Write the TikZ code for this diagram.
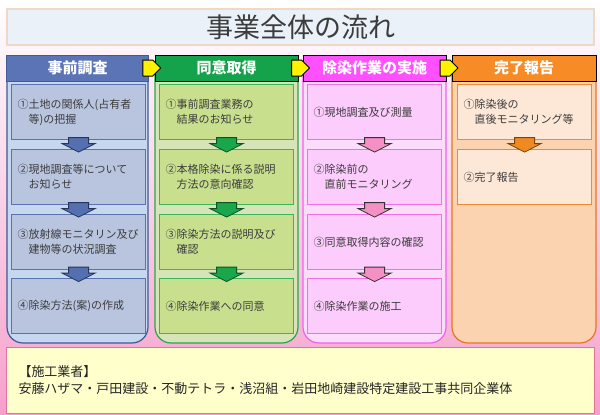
\documentclass[tikz,border=0pt]{standalone}
\usepackage{fontspec}
\setmainfont{Noto Sans CJK JP}
\usepackage{xcolor}
\usetikzlibrary{calc}

\definecolor{bgpink}{HTML}{F5A0CC}
\definecolor{titlefill}{HTML}{EAF1F9}
\definecolor{titleline}{HTML}{EFD8C6}
\definecolor{titletext}{HTML}{3C3C3C}
\definecolor{steptext}{HTML}{3C3C3C}
\definecolor{bluehead}{HTML}{5B74B5}
\definecolor{blueline}{HTML}{3F5A96}
\definecolor{bluebody}{HTML}{C6D8F0}
\definecolor{bluestep}{HTML}{B9C5DF}
\definecolor{blueedge}{HTML}{5A73AC}
\definecolor{bluearrow}{HTML}{5470B0}
\definecolor{greenhead}{HTML}{14A34A}
\definecolor{greenline}{HTML}{25A84C}
\definecolor{greenbody}{HTML}{D6E4B8}
\definecolor{greenstep}{HTML}{C8E08E}
\definecolor{greenedge}{HTML}{3CB45A}
\definecolor{greenarrow}{HTML}{1AA64A}
\definecolor{pinkhead}{HTML}{FF50FF}
\definecolor{pinkline}{HTML}{F060F0}
\definecolor{pinkbody}{HTML}{FBDCFB}
\definecolor{pinkstep}{HTML}{FCCCFC}
\definecolor{pinkedge}{HTML}{F070E0}
\definecolor{pinkarrow}{HTML}{F590C4}
\definecolor{orangehead}{HTML}{F78B26}
\definecolor{orangeline}{HTML}{E07A20}
\definecolor{orangebody}{HTML}{FBD3B0}
\definecolor{orangestep}{HTML}{FDE7D6}
\definecolor{orangeedge}{HTML}{EC8A3A}
\definecolor{orangearrow}{HTML}{F08A20}
\definecolor{infofill}{HTML}{FFFFCC}
\definecolor{infoline}{HTML}{E5729A}

\tikzset{
  colhead/.style={draw=black, line width=1pt, text=white, font=\fontsize{15}{15}\selectfont\bfseries, minimum width=142pt, minimum height=26pt, inner sep=0pt},
  colbody/.style={line width=1.2pt, rounded corners=16pt},
  stepbox/.style={draw, line width=1.2pt, anchor=north west, minimum height=55pt, text width=122pt, inner xsep=6pt, align=left, text=steptext, font=\fontsize{11}{15}\selectfont},
  blockdown/.pic={\draw[pic actions, line width=0.8pt, line join=miter] (-10,-7) -- (10,-7) -- (10,-1) -- (16.5,-1) -- (0,7.5) -- (-16.5,-1) -- (-10,-1) -- cycle;},
  nextarrow/.pic={\draw[fill=yellow, draw=black, line width=1pt, line join=round] (-9,-8) -- (1,-8) -- (9,0) -- (1,8) -- (-9,8) -- cycle;}
}

\begin{document}
\begin{tikzpicture}[x=1pt, y=-1pt]
    \shade[top color=white, bottom color=bgpink] (0,0) rectangle (600,415);
    \useasboundingbox (0,0) rectangle (600,415);

    \node[draw=titleline, line width=1.5pt, fill=titlefill, minimum width=587pt, minimum height=36pt, text=titletext, font=\fontsize{27}{27}\selectfont] (title) at (300.5,27) {事業全体の流れ};

    % column bodies
    \draw[colbody, draw=blueline, fill=bluebody] (7,60) rectangle (148,343);
    \draw[colbody, draw=greenline, fill=greenbody] (155,60) rectangle (298,343);
    \draw[colbody, draw=pinkline, fill=pinkbody] (303,60) rectangle (446,343);
    \draw[colbody, draw=orangeline, fill=orangebody] (452,60) rectangle (596,343);

    % column heads
    \node[colhead, draw=blueline, fill=bluehead] (ha) at (77.5,68) {事前調査};
    \node[colhead, fill=greenhead, minimum width=143pt] (hb) at (226.5,68) {同意取得};
    \node[colhead, fill=pinkhead, minimum width=143pt] (hc) at (374.5,68) {除染作業の実施};
    \node[colhead, fill=orangehead, minimum width=144pt] (hd) at (524,68) {完了報告};

    \pic (nab) at ($(ha.east)!0.5!(hb.west)$) {nextarrow};
    \pic (nbc) at ($(hb.east)!0.5!(hc.west)$) {nextarrow};
    \pic (ncd) at ($(hc.east)!0.5!(hd.west)$) {nextarrow};

    % steps
    \node[stepbox, draw=blueedge, fill=bluestep] (a1) at (11,84) {①土地の関係人(占有者\\\hspace*{1em}等)の把握};
    \node[stepbox, draw=blueedge, fill=bluestep] (a2) at (11,149) {②現地調査等について\\\hspace*{1em}お知らせ};
    \node[stepbox, draw=blueedge, fill=bluestep] (a3) at (11,214) {③放射線モニタリン及び\\\hspace*{1em}建物等の状況調査};
    \node[stepbox, draw=blueedge, fill=bluestep] (a4) at (11,278) {④除染方法(案)の作成};

    \node[stepbox, draw=greenedge, fill=greenstep] (b1) at (159,84) {①事前調査業務の\\\hspace*{1em}結果のお知らせ};
    \node[stepbox, draw=greenedge, fill=greenstep] (b2) at (159,149) {②本格除染に係る説明\\\hspace*{1em}方法の意向確認};
    \node[stepbox, draw=greenedge, fill=greenstep] (b3) at (159,214) {③除染方法の説明及び\\\hspace*{1em}確認};
    \node[stepbox, draw=greenedge, fill=greenstep] (b4) at (159,278) {④除染作業への同意};

    \node[stepbox, draw=pinkedge, fill=pinkstep] (c1) at (307,84) {①現地調査及び測量};
    \node[stepbox, draw=pinkedge, fill=pinkstep] (c2) at (307,149) {②除染前の\\\hspace*{1em}直前モニタリング};
    \node[stepbox, draw=pinkedge, fill=pinkstep] (c3) at (307,214) {③同意取得内容の確認};
    \node[stepbox, draw=pinkedge, fill=pinkstep] (c4) at (307,278) {④除染作業の施工};

    \node[stepbox, draw=orangeedge, fill=orangestep] (d1) at (457,84) {①除染後の\\\hspace*{1em}直後モニタリング等};
    \node[stepbox, draw=orangeedge, fill=orangestep] (d2) at (457,149) {②完了報告};

    % arrows between steps
    \pic[draw=blueline!60!black, fill=bluearrow] (a12) at ($(a1.south)!0.5!(a2.north)$) {blockdown};
    \pic[draw=blueline!60!black, fill=bluearrow] (a23) at ($(a2.south)!0.5!(a3.north)$) {blockdown};
    \pic[draw=blueline!60!black, fill=bluearrow] (a34) at ($(a3.south)!0.5!(a4.north)$) {blockdown};
    \pic[draw=greenarrow!50!black, fill=greenarrow] (b12) at ($(b1.south)!0.5!(b2.north)$) {blockdown};
    \pic[draw=greenarrow!50!black, fill=greenarrow] (b23) at ($(b2.south)!0.5!(b3.north)$) {blockdown};
    \pic[draw=greenarrow!50!black, fill=greenarrow] (b34) at ($(b3.south)!0.5!(b4.north)$) {blockdown};
    \pic[draw=black!80, fill=pinkarrow] (c12) at ($(c1.south)!0.5!(c2.north)$) {blockdown};
    \pic[draw=black!80, fill=pinkarrow] (c23) at ($(c2.south)!0.5!(c3.north)$) {blockdown};
    \pic[draw=black!80, fill=pinkarrow] (c34) at ($(c3.south)!0.5!(c4.north)$) {blockdown};
    \pic[draw=orangearrow!50!black, fill=orangearrow] (d12) at ($(d1.south)!0.5!(d2.north)$) {blockdown};

    \node[draw=infoline, line width=1pt, fill=infofill, anchor=north west, minimum width=588pt, minimum height=66pt, text width=564pt, inner xsep=12pt, align=left, text=black!85, font=\fontsize{13}{17}\selectfont] (info) at (6,347) {【施工業者】\\安藤ハザマ・戸田建設・不動テトラ・浅沼組・岩田地崎建設特定建設工事共同企業体};
\end{tikzpicture}
\end{document}
